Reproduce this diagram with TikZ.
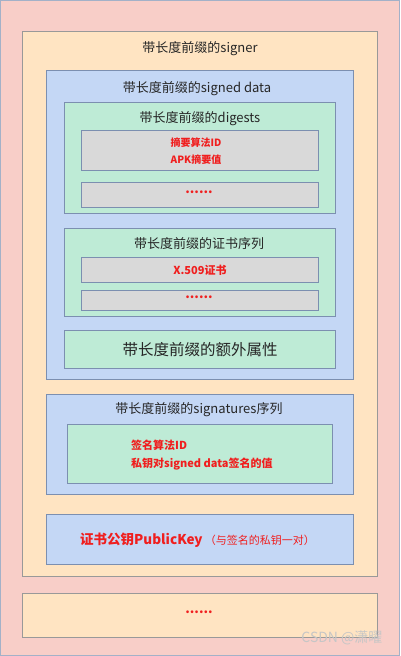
\documentclass[tikz,border=0pt]{standalone}
\usepackage{fontspec}
\setmainfont{Noto Sans CJK SC}
\definecolor{pinkbg}{HTML}{F8CEC8}
\definecolor{orangebg}{HTML}{FFE4C2}
\definecolor{bluebg}{HTML}{C4D7F5}
\definecolor{greenbg}{HTML}{BEEBD6}
\definecolor{graybg}{HTML}{D9D9D9}
\definecolor{redtxt}{HTML}{F01E1E}
\definecolor{edgeblue}{HTML}{7C8FB0}
\tikzset{
  layer/.style={draw=edgeblue, line width=0.8pt},
  title/.style={font=\fontsize{13}{15}\selectfont, text=black!85},
  redbold/.style={font=\fontsize{11}{13}\selectfont\bfseries, text=redtxt},
  reddots/.style={font=\fontsize{13}{15}\selectfont\bfseries, text=redtxt},
}

\begin{document}
\begin{tikzpicture}[x=1pt,y=-1pt]
		\useasboundingbox (0,0) rectangle (400,656);
		% nested boxes
		\draw[layer, fill=pinkbg, draw=edgeblue!70] (0.5,0.5) rectangle (399.5,655.5);
		\draw[layer, fill=orangebg, draw=gray!80] (22,31) rectangle (377,576);
		\draw[layer, fill=bluebg] (46,70) rectangle (353,379);
		\draw[layer, fill=greenbg] (64,102) rectangle (335,213);
		\draw[layer, fill=graybg] (81,130) rectangle (318,170);
		\draw[layer, fill=graybg] (81,182) rectangle (318,207);
		\draw[layer, fill=greenbg] (64,228) rectangle (335,316);
		\draw[layer, fill=graybg] (81,257) rectangle (318,282);
		\draw[layer, fill=graybg] (81,290) rectangle (318,310);
		\draw[layer, fill=greenbg] (64,330) rectangle (335,368);
		\draw[layer, fill=bluebg] (46,394) rectangle (353,494);
		\draw[layer, fill=greenbg] (67,424) rectangle (332,483);
		\draw[layer, fill=bluebg] (46,514) rectangle (353,564);
		\draw[layer, fill=orangebg, draw=gray!80] (22,593) rectangle (377,637);
		% titles
		\node[title] (signer) at (200,49) {带长度前缀的signer};
		\node[title] (signeddata) at (197,89) {带长度前缀的signed data};
		\node[title] (digests) at (200,119) {带长度前缀的digests};
		\node[redbold, font=\fontsize{10}{12}\selectfont\bfseries, align=center] (digestitem) at (196,151) {摘要算法ID\\[5pt]APK摘要值};
		\node[reddots] (digestdots) at (199,192) {......};
		\node[title] (certs) at (199,244) {带长度前缀的证书序列};
		\node[redbold] (x509) at (200,270) {X.509证书};
		\node[reddots] (certdots) at (199,297) {......};
		\node[title, font=\fontsize{15.5}{18}\selectfont] (extra) at (200,350) {带长度前缀的额外属性};
		\node[title] (signatures) at (199,410) {带长度前缀的signatures序列};
		\node[redbold, align=left, anchor=west, inner sep=0pt] (sigitem) at (131,455) {签名算法ID\\[5pt]私钥对signed data签名的值};
		\node[redbold, font=\fontsize{13.5}{16}\selectfont\bfseries, anchor=west, inner sep=0pt] (pubkey) at (80,540) {证书公钥PublicKey};
		\node[text=redtxt, font=\fontsize{11}{13}\selectfont, anchor=west, inner sep=0pt] (pubnote) at (pubkey.east) {\,（与签名的私钥一对）};
		\node[reddots] (signerdots) at (199,612) {......};
		\node[text=white!55!gray, font=\fontsize{14}{16}\selectfont, anchor=east] (mark) at (386,638) {CSDN @潇曜};
	\end{tikzpicture}
\end{document}
